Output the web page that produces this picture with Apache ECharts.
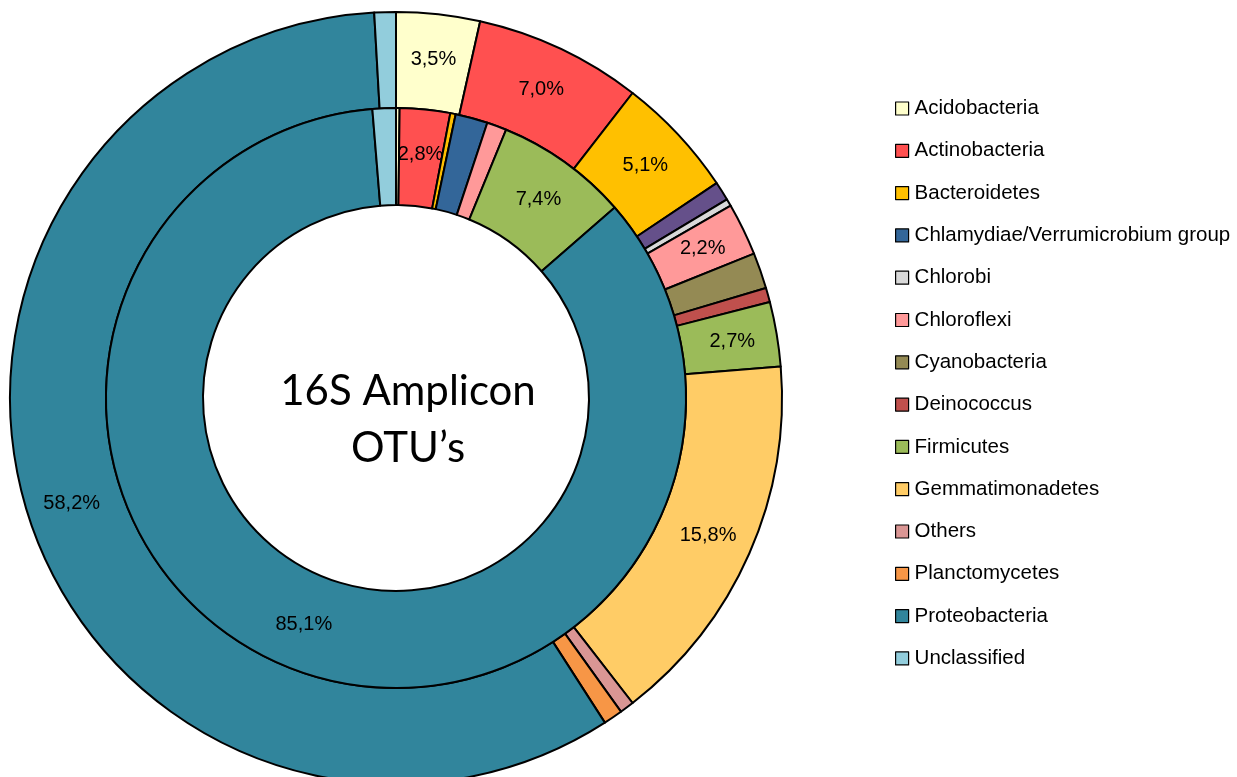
<!DOCTYPE html>
<html>
<head>
<meta charset="utf-8">
<title>16S Amplicon OTU's</title>
<script src="https://cdn.jsdelivr.net/npm/echarts@6/dist/echarts.min.js"></script>
<style>
  html, body { margin: 0; padding: 0; background: #fff; }
  #main { width: 1237px; height: 777px; }
</style>
</head>
<body>
<div id="main"></div>
<script>
// phyla, same order for both rings
var phyla = ['Acidobacteria', 'Actinobacteria', 'Bacteroidetes', 'Chlamydiae/Verrumicrobium group',
    'Chlorobi', 'Chloroflexi', 'Cyanobacteria', 'Deinococcus', 'Firmicutes', 'Gemmatimonadetes',
    'Others', 'Planctomycetes', 'Proteobacteria', 'Unclassified'];
var colors = ['#FFFFCC', '#FF5050', '#FFC000', '#336699', '#D9D9D9', '#FF9999', '#948A54',
    '#C0504D', '#9BBB59', '#FFCC66', '#DA9694', '#F79646', '#31859C', '#92CDDC'];
// outer ring (%)
var outerValues = [3.5, 7.0, 5.1, 0.8, 0.3, 2.2, 1.5, 0.6, 2.7, 15.8, 0.6, 0.8, 58.2, 0.9];
// inner ring (%)
var innerValues = [0.2, 2.8, 0.3, 1.8, 0, 1.1, 0, 0, 7.4, 0, 0, 0, 85.1, 1.3];
// in the outer ring the Chlamydiae slice is drawn purple
var outerColorFix = { 'Chlamydiae/Verrumicrobium group': '#65508A' };

function buildData(values, fix) {
    var out = [];
    for (var i = 0; i < phyla.length; i++) {
        if (values[i] <= 0) continue;
        out.push({
            name: phyla[i],
            value: values[i],
            itemStyle: { color: (fix && fix[phyla[i]]) || colors[i] },
            label: { show: values[i] >= 2 }
        });
    }
    return out;
}

function fmt(p) {
    return p.value.toFixed(1).replace('.', ',') + '%';
}

var myChart = echarts.init(document.getElementById('main'));
var ringBase = {
    type: 'pie',
    center: [396, 398],
    startAngle: 90,
    clockwise: true,
    avoidLabelOverlap: false,
    animation: false,
    emphasis: { disabled: true },
    itemStyle: { borderColor: '#000', borderWidth: 2 },
    label: {
        position: 'inside',
        formatter: fmt,
        color: '#000',
        fontFamily: 'Liberation Sans, Arial',
        fontSize: 20
    },
    labelLine: { show: false }
};

var option = {
    backgroundColor: '#fff',
    legend: {
        orient: 'vertical',
        left: 890,
        top: 93,
        data: phyla.map(function (n, i) {
            return { name: n, itemStyle: { color: colors[i] } };
        }),
        icon: 'rect',
        itemWidth: 13,
        itemHeight: 13,
        itemGap: 21.3,
        itemStyle: { borderColor: '#000', borderWidth: 1.2 },
        textStyle: {
            fontFamily: 'Liberation Sans, Arial',
            fontSize: 20.5,
            color: '#000',
            padding: [0, 0, 0, 1]
        },
        selectedMode: false
    },
    graphic: [{
        type: 'text',
        x: 408,
        y: 420,
        style: {
            text: '16S Amplicon\nOTU\u2019s',
            align: 'center',
            verticalAlign: 'middle',
            font: '42px Lato, "Open Sans", sans-serif',
            lineHeight: 57,
            fill: '#000'
        }
    }],
    series: [
        Object.assign({}, ringBase, {
            name: 'outer',
            radius: [290, 386],
            data: buildData(outerValues, outerColorFix)
        }),
        Object.assign({}, ringBase, {
            name: 'inner',
            radius: [193, 290],
            data: buildData(innerValues)
        })
    ]
};

myChart.setOption(option);
</script>
</body>
</html>
